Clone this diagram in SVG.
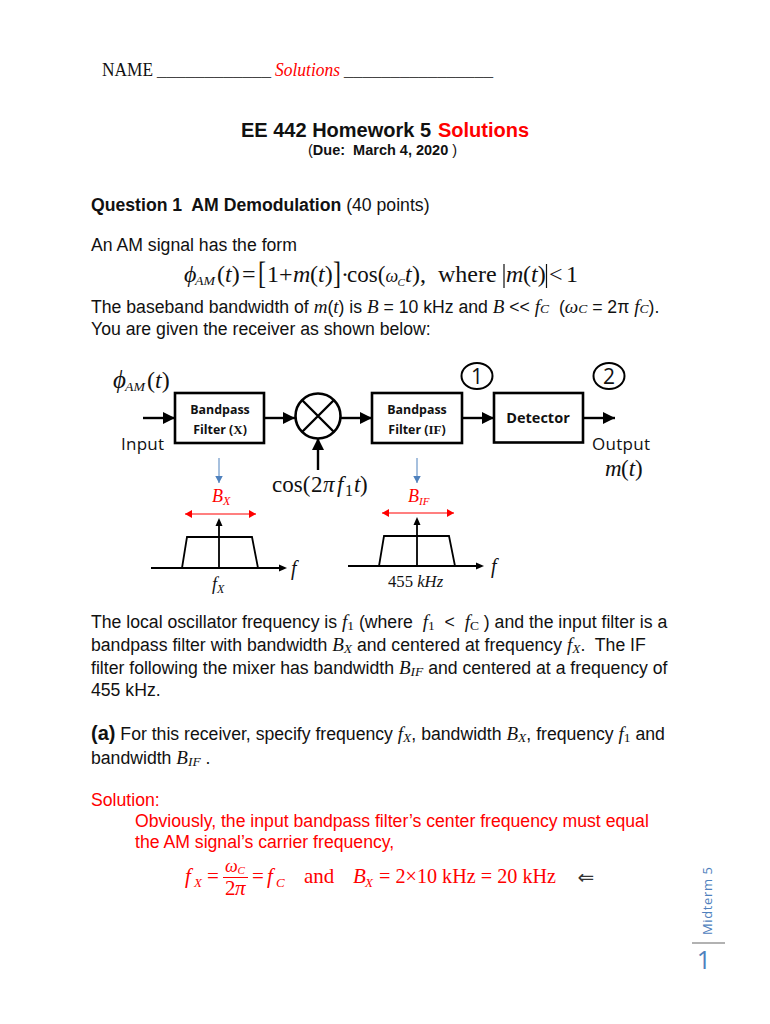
<svg xmlns="http://www.w3.org/2000/svg" width="770" height="1024" viewBox="0 0 770 1024">
<style>
text{white-space:pre}
.s{font-family:"Liberation Sans",Arial,sans-serif;font-size:17.650px;fill:#111}
.b{font-weight:bold}
.t{font-family:"Liberation Serif","Times New Roman",serif;fill:#111}
.m{font-size:19px}
.u{font-size:13.500px}
.e{font-size:24px}
.r{fill:#f00}
.i{font-style:italic}
.f{font-size:21px}
.c{font-family:"Open Sans","Noto Sans",sans-serif;fill:#111}
.box{fill:#fff;stroke:#000;stroke-width:2.6}
.w{fill:none;stroke:#000;stroke-width:2.4}
.th{fill:none;stroke:#000;stroke-width:1.8}
.lab{font-family:"Open Sans","Noto Sans",sans-serif;font-size:12.400px;font-weight:bold;fill:#111;text-anchor:middle}
</style>
<defs>
<marker id="big" markerWidth="13" markerHeight="13" refX="12" refY="6" orient="auto" markerUnits="userSpaceOnUse"><path d="M0 0L12 6L0 12Z" fill="#000"/></marker>
<marker id="blue" markerWidth="9" markerHeight="9" refX="7.5" refY="4" orient="auto" markerUnits="userSpaceOnUse"><path d="M0 0L7.5 4L0 8Z" fill="#4f81bd"/></marker>
<marker id="re" markerWidth="8" markerHeight="8" refX="7" refY="4" orient="auto" markerUnits="userSpaceOnUse"><path d="M0 0L7 4L0 8Z" fill="#f00"/></marker>
<marker id="rs" markerWidth="8" markerHeight="8" refX="0" refY="4" orient="auto" markerUnits="userSpaceOnUse"><path d="M7 0L0 4L7 8Z" fill="#f00"/></marker>
</defs>

<g id="header">
<text class="t" x="102" y="76" font-size="18" textLength="51" lengthAdjust="spacingAndGlyphs">NAME</text>
<text class="t" x="157" y="76" font-size="18" textLength="114" lengthAdjust="spacingAndGlyphs" style="fill:#444">____________</text>
<text class="t i r" x="275" y="76" font-size="18" textLength="65" lengthAdjust="spacingAndGlyphs">Solutions</text>
<text class="t" x="344" y="76" font-size="18" textLength="149" lengthAdjust="spacingAndGlyphs" style="fill:#444">________________</text>
<text class="s b" x="241" y="137" style="font-size:20px">EE 442 Homework 5</text>
<text class="s b r" x="438" y="137" style="font-size:20px">Solutions</text>
<text class="s" x="308" y="155" style="font-size:14.500px">(<tspan class="b">Due:  March 4, 2020 </tspan>)</text>
<text class="s" x="91" y="211"><tspan class="b">Question 1  AM Demodulation </tspan>(40 points)</text>
<text class="s" x="91" y="251">An AM signal has the form</text>
</g>

<g id="equation-am">
<text class="t i e" x="184" y="282">ϕ</text>
<text class="t i" x="195" y="285" font-size="13.500" textLength="20" lengthAdjust="spacingAndGlyphs">AM</text>
<text class="t e" x="217" y="282">(<tspan class="i">t</tspan>)</text>
<text class="t e" x="242" y="282">=</text>
<text class="t" x="258" y="284" font-size="32" textLength="8" lengthAdjust="spacingAndGlyphs">[</text>
<text class="t e" x="267" y="282">1</text>
<text class="t e" x="279" y="282">+</text>
<text class="t e i" x="293" y="282">m</text>
<text class="t e" x="310" y="282">(<tspan class="i">t</tspan>)</text>
<text class="t" x="333" y="284" font-size="32" textLength="8" lengthAdjust="spacingAndGlyphs">]</text>
<text class="t e" x="341" y="282">·</text>
<text class="t" x="347" y="282" font-size="23">cos(</text>
<text class="t i" x="385.500" y="282" font-size="18">ω</text>
<text class="t i" x="397.500" y="286" font-size="11">C</text>
<text class="t e i" x="405" y="282">t</text>
<text class="t e" x="412" y="282">),</text>
<text class="t e" x="438" y="282">where</text>
<path d="M504 264V288M546.500 264V288" stroke="#111" stroke-width="1.200" fill="none"/>
<text class="t e i" x="506" y="282">m</text>
<text class="t e" x="523" y="282">(<tspan class="i">t</tspan>)</text>
<text class="t e" x="549" y="282">&lt;</text>
<text class="t e" x="566" y="282">1</text>
</g>

<g id="intro">
<text class="s" x="91" y="313">The baseband bandwidth of <tspan class="t i m">m</tspan>(<tspan class="t i m">t</tspan>) is <tspan class="t i m">B</tspan> = 10 kHz and <tspan class="t i m">B</tspan> &lt;&lt; <tspan class="t i m">f</tspan><tspan class="t i u">C</tspan>  (<tspan class="t i m">ω</tspan><tspan class="t i u">C</tspan> = 2π <tspan class="t i m">f</tspan><tspan class="t i u">C</tspan>).</text>
<text class="s" x="91" y="335">You are given the receiver as shown below:</text>
</g>

<g id="connectors">
<path class="w" d="M143 418H175" marker-end="url(#big)"/>
<path class="w" d="M264 418H295" marker-end="url(#big)"/>
<path class="w" d="M341 418H372" marker-end="url(#big)"/>
<path class="w" d="M462 418H494" marker-end="url(#big)"/>
<path class="w" d="M583 418H615" marker-end="url(#big)"/>
<path class="w" d="M318 470V438" marker-end="url(#big)"/>
<path d="M219 458V483" stroke="#4f81bd" stroke-width="1" fill="none" marker-end="url(#blue)"/>
<path d="M417 458V483" stroke="#4f81bd" stroke-width="1" fill="none" marker-end="url(#blue)"/>
<path d="M185 514H256" stroke="#f00" stroke-width="1.200" fill="none" marker-start="url(#rs)" marker-end="url(#re)"/>
<path d="M382 513H454" stroke="#f00" stroke-width="1.200" fill="none" marker-start="url(#rs)" marker-end="url(#re)"/>
</g>

<g id="filter-x"><rect class="box" x="175" y="393" width="89" height="50"/><text class="lab" x="220" y="414">Bandpass</text><text class="lab" x="220" y="434">Filter (<tspan class="t" font-size="13">X</tspan>)</text></g>
<g id="mixer"><circle cx="318" cy="416" r="22.500" fill="#fff" stroke="#000" stroke-width="2.600"/><path class="w" d="M302 400L334 432M334 400L302 432"/></g>
<g id="filter-if"><rect class="box" x="372" y="393" width="90" height="50"/><text class="lab" x="417" y="414">Bandpass</text><text class="lab" x="417" y="434">Filter (<tspan class="t" font-size="13">IF</tspan>)</text></g>
<g id="detector"><rect class="box" x="494" y="393" width="89" height="49.500"/><text class="lab" x="538" y="423" style="font-size:14.500px">Detector</text></g>
<g id="marker-1"><ellipse cx="477" cy="376" rx="15.500" ry="13" fill="#fff" stroke="#000" stroke-width="2"/><text class="c" x="477" y="383.500" font-size="21" text-anchor="middle">1</text></g>
<g id="marker-2"><ellipse cx="609" cy="376" rx="15.500" ry="13" fill="#fff" stroke="#000" stroke-width="2"/><text class="c" x="609" y="383.500" font-size="21" text-anchor="middle">2</text></g>

<g id="labels">
<text class="t i" x="113" y="388" font-size="25">ϕ</text>
<text class="t i" x="125" y="391" font-size="13" textLength="20" lengthAdjust="spacingAndGlyphs">AM</text>
<text class="t e" x="147" y="388">(<tspan class="i">t</tspan>)</text>
<text class="c" x="121" y="450" font-size="17" textLength="43">Input</text>
<text class="c" x="592" y="450" font-size="17" textLength="58">Output</text>
<text class="t i" x="605" y="476" font-size="23">m</text>
<text class="t" x="621" y="476" font-size="23">(<tspan class="i">t</tspan>)</text>
<text class="t" x="272" y="492" font-size="23">cos(</text>
<text class="t" x="311" y="492" font-size="23">2</text>
<text class="t i" x="323" y="492" font-size="23">π</text>
<text class="t i" x="337" y="492" font-size="23">f</text>
<text class="t" x="345" y="496" font-size="16">1</text>
<text class="t i" x="354" y="492" font-size="23">t</text>
<text class="t" x="360" y="492" font-size="23">)</text>
<text class="t i r" x="212" y="502" font-size="18">B<tspan font-size="12" dy="3">X</tspan></text>
<text class="t i r" x="408" y="502" font-size="18">B<tspan font-size="11" dy="3">IF</tspan></text>
<text class="t i" x="291" y="575" font-size="20">f</text>
<text class="t i" x="212" y="590" font-size="18">f<tspan font-size="12" dy="3">X</tspan></text>
<text class="t i" x="491" y="573" font-size="20">f</text>
<text class="t" x="388" y="587" font-size="16.700">455 <tspan class="i">kHz</tspan></text>
</g>

<g id="spectrum-x">
<path class="th" d="M151 568H281"/><path d="M287 568L279 564.500V571.500Z" fill="#000"/>
<path class="th" d="M182 568L187 537H252L258 568"/>
<path class="th" d="M219 568V523"/><path d="M219 518L215.500 526H222.500Z" fill="#000"/>
</g>
<g id="spectrum-if">
<path class="th" d="M348 566H478"/><path d="M484 566L476 562.500V569.500Z" fill="#000"/>
<path class="th" d="M379 566L384 536H449L455 566"/>
<path class="th" d="M417 566V522"/><path d="M417 517L413.500 525H420.500Z" fill="#000"/>
</g>

<g id="body">
<text class="s" x="91" y="628">The local oscillator frequency is <tspan class="t i m">f</tspan><tspan class="t u" dy="2">1</tspan><tspan dy="-2"> (where  </tspan><tspan class="t i m">f</tspan><tspan class="t u" dy="2">1</tspan><tspan dy="-2">  &lt;  </tspan><tspan class="t i m">f</tspan><tspan class="t u" dy="2">C</tspan><tspan dy="-2"> ) and the input filter is a</tspan></text>
<text class="s" x="91" y="651">bandpass filter with bandwidth <tspan class="t i m">B</tspan><tspan class="t i u" dy="2">X</tspan><tspan dy="-2"> and centered at frequency </tspan><tspan class="t i m">f</tspan><tspan class="t i u" dy="2">X</tspan><tspan dy="-2">.  The IF</tspan></text>
<text class="s" x="91" y="674">filter following the mixer has bandwidth <tspan class="t i m">B</tspan><tspan class="t i u" dy="2">IF</tspan><tspan dy="-2"> and centered at a frequency of</tspan></text>
<text class="s" x="91" y="696">455 kHz.</text>
<text class="s" x="91" y="740"><tspan class="b" style="font-size:20px">(a)</tspan> For this receiver, specify frequency <tspan class="t i m">f</tspan><tspan class="t i u" dy="2">X</tspan><tspan dy="-2">, bandwidth </tspan><tspan class="t i m">B</tspan><tspan class="t i u" dy="2">X</tspan><tspan dy="-2">, frequency </tspan><tspan class="t i m">f</tspan><tspan class="t u" dy="2">1</tspan><tspan dy="-2"> and</tspan></text>
<text class="s" x="91" y="764">bandwidth <tspan class="t i m">B</tspan><tspan class="t i u" dy="2">IF</tspan><tspan dy="-2"> .</tspan></text>
</g>

<g id="solution">
<text class="s r" x="91" y="806">Solution:</text>
<text class="s r" x="135" y="827">Obviously, the input bandpass filter’s center frequency must equal</text>
<text class="s r" x="135" y="848">the AM signal’s carrier frequency,</text>
<text class="t i r f" x="185" y="883">f</text>
<text class="t i r" x="194" y="887" font-size="13">X</text>
<text class="t r f" x="207" y="883">=</text>
<text class="t i r" x="225" y="872" font-size="18">ω</text>
<text class="t i r" x="237.500" y="874" font-size="11">C</text>
<path d="M223 877.500H248" stroke="#f00" stroke-width="1"/>
<text class="t r f" x="225" y="895">2</text>
<text class="t i r f" x="235" y="895">π</text>
<text class="t r f" x="252" y="883">=</text>
<text class="t i r f" x="267" y="883">f</text>
<text class="t i r" x="276" y="887" font-size="13">C</text>
<text class="t r f" x="304" y="883">and</text>
<text class="t i r f" x="353" y="883">B</text>
<text class="t i r" x="365" y="887" font-size="13">X</text>
<text class="t r f" x="379" y="883" textLength="177" lengthAdjust="spacingAndGlyphs">= 2×10 kHz = 20 kHz</text>
<text x="586" y="884" font-size="20" text-anchor="middle" font-family="'DejaVu Sans',sans-serif" fill="#333">⇐</text>
</g>

<g id="footer">
<text transform="translate(712 935) rotate(-90)" font-family="'Open Sans','Noto Sans',sans-serif" font-size="13" fill="#4f81bd" textLength="68">Midterm 5</text>
<path d="M692 943H725" stroke="#999" stroke-width="1.500"/>
<text x="704" y="969" font-family="'Open Sans','Noto Sans',sans-serif" font-size="25" fill="#4f81bd" text-anchor="middle">1</text>
</g>
</svg>
